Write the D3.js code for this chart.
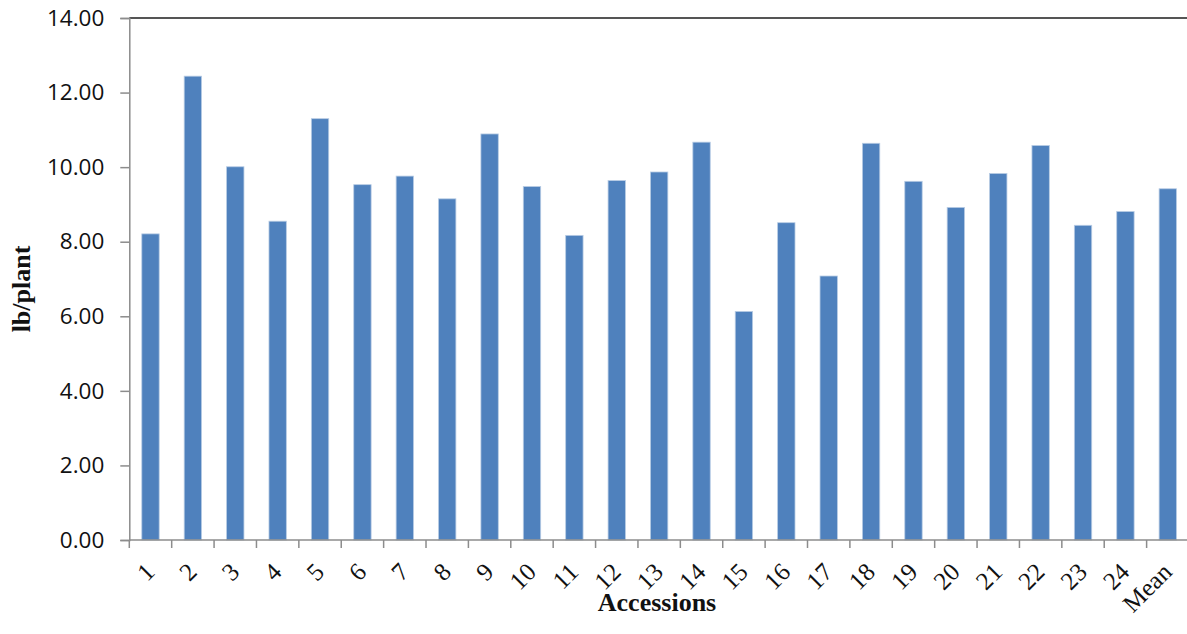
<!DOCTYPE html>
<html>
<head>
<meta charset="utf-8">
<script src="https://cdn.jsdelivr.net/npm/d3@7"></script>
<style>
  html, body { margin: 0; padding: 0; background: #fff; }
  svg { display: block; }
</style>
</head>
<body>
<svg id="chart" width="1187" height="634"></svg>
<script>
// Yield per plant for each accession, plus the overall mean
const accessions = ["1","2","3","4","5","6","7","8","9","10","11","12","13","14","15","16","17","18","19","20","21","22","23","24","Mean"];
const yieldLbPerPlant = [8.21, 12.44, 10.01, 8.55, 11.30, 9.53, 9.76, 9.15, 10.89, 9.48, 8.17, 9.64, 9.87, 10.67, 6.13, 8.51, 7.08, 10.64, 9.62, 8.92, 9.83, 10.58, 8.44, 8.81, 9.42];
const yTickValues = [0, 2, 4, 6, 8, 10, 12, 14];
const yTitle = "lb/plant";
const xTitle = "Accessions";

const svg = d3.select("#chart");
const plot = { left: 129.3, right: 1189, top: 18, bottom: 540 };

const x = d3.scaleBand()
  .domain(accessions)
  .range([plot.left, plot.right])
  .paddingInner(0.59)
  .paddingOuter(0.295);

const y = d3.scaleLinear()
  .domain([0, 14])
  .range([plot.bottom, plot.top]);

// Frame line along the top of the plot area
svg.append("line")
  .attr("x1", plot.left).attr("x2", plot.right)
  .attr("y1", plot.top).attr("y2", plot.top)
  .attr("stroke", "#555").attr("stroke-width", 2);

// Bars
svg.append("g")
  .selectAll("rect")
  .data(accessions.map((a, i) => ({ a, v: yieldLbPerPlant[i] })))
  .join("rect")
  .attr("x", d => x(d.a))
  .attr("y", d => y(d.v))
  .attr("width", x.bandwidth())
  .attr("height", d => y(0) - y(d.v))
  .attr("fill", "#4F81BD")
  .attr("stroke", "#b8cce4")
  .attr("stroke-width", 0.8);

// Y axis
const yAxis = svg.append("g")
  .attr("transform", `translate(${plot.left},0)`)
  .call(d3.axisLeft(y).tickValues(yTickValues).tickFormat(d3.format(".2f")).tickSize(9).tickPadding(16));
yAxis.select(".domain").attr("stroke", "#8c8c8c").attr("stroke-width", 1.5);
yAxis.selectAll(".tick line").attr("stroke", "#8c8c8c").attr("stroke-width", 1.5);
yAxis.selectAll(".tick text")
  .attr("font-family", "'Open Sans', sans-serif")
  .attr("font-size", 22.5)
  .attr("fill", "#111");

// X axis: ticks sit on category boundaries
const boundaries = d3.range(accessions.length + 1).map(i => plot.left + i * x.step());
const xAxisG = svg.append("g").attr("transform", `translate(0,${plot.bottom})`);
xAxisG.append("line")
  .attr("x1", plot.left).attr("x2", plot.right)
  .attr("stroke", "#8c8c8c").attr("stroke-width", 1.5);
xAxisG.selectAll("line.tick")
  .data(boundaries)
  .join("line")
  .attr("class", "tick")
  .attr("x1", d => d).attr("x2", d => d)
  .attr("y1", 0).attr("y2", 8)
  .attr("stroke", "#8c8c8c").attr("stroke-width", 1.5);

const xAxis = svg.append("g")
  .attr("transform", `translate(0,${plot.bottom})`)
  .call(d3.axisBottom(x).tickSize(0).tickPadding(0));
xAxis.select(".domain").remove();
xAxis.selectAll(".tick text")
  .attr("font-family", "'Liberation Serif', 'Times New Roman', serif")
  .attr("font-size", 25)
  .attr("fill", "#111")
  .attr("text-anchor", "end")
  .attr("dy", null)
  .attr("y", 0)
  .attr("transform", "translate(5.5,33.5) rotate(-45)");

// Axis titles
svg.append("text")
  .attr("transform", `translate(30,${(plot.top + plot.bottom) / 2 + 10}) rotate(-90)`)
  .attr("text-anchor", "middle")
  .attr("font-family", "'Liberation Serif', 'Times New Roman', serif")
  .attr("font-weight", "bold")
  .attr("font-size", 26)
  .attr("fill", "#111")
  .text(yTitle);

svg.append("text")
  .attr("x", 657)
  .attr("y", 611)
  .attr("text-anchor", "middle")
  .attr("font-family", "'Liberation Serif', 'Times New Roman', serif")
  .attr("font-weight", "bold")
  .attr("font-size", 26)
  .attr("fill", "#111")
  .text(xTitle);
</script>
</body>
</html>
